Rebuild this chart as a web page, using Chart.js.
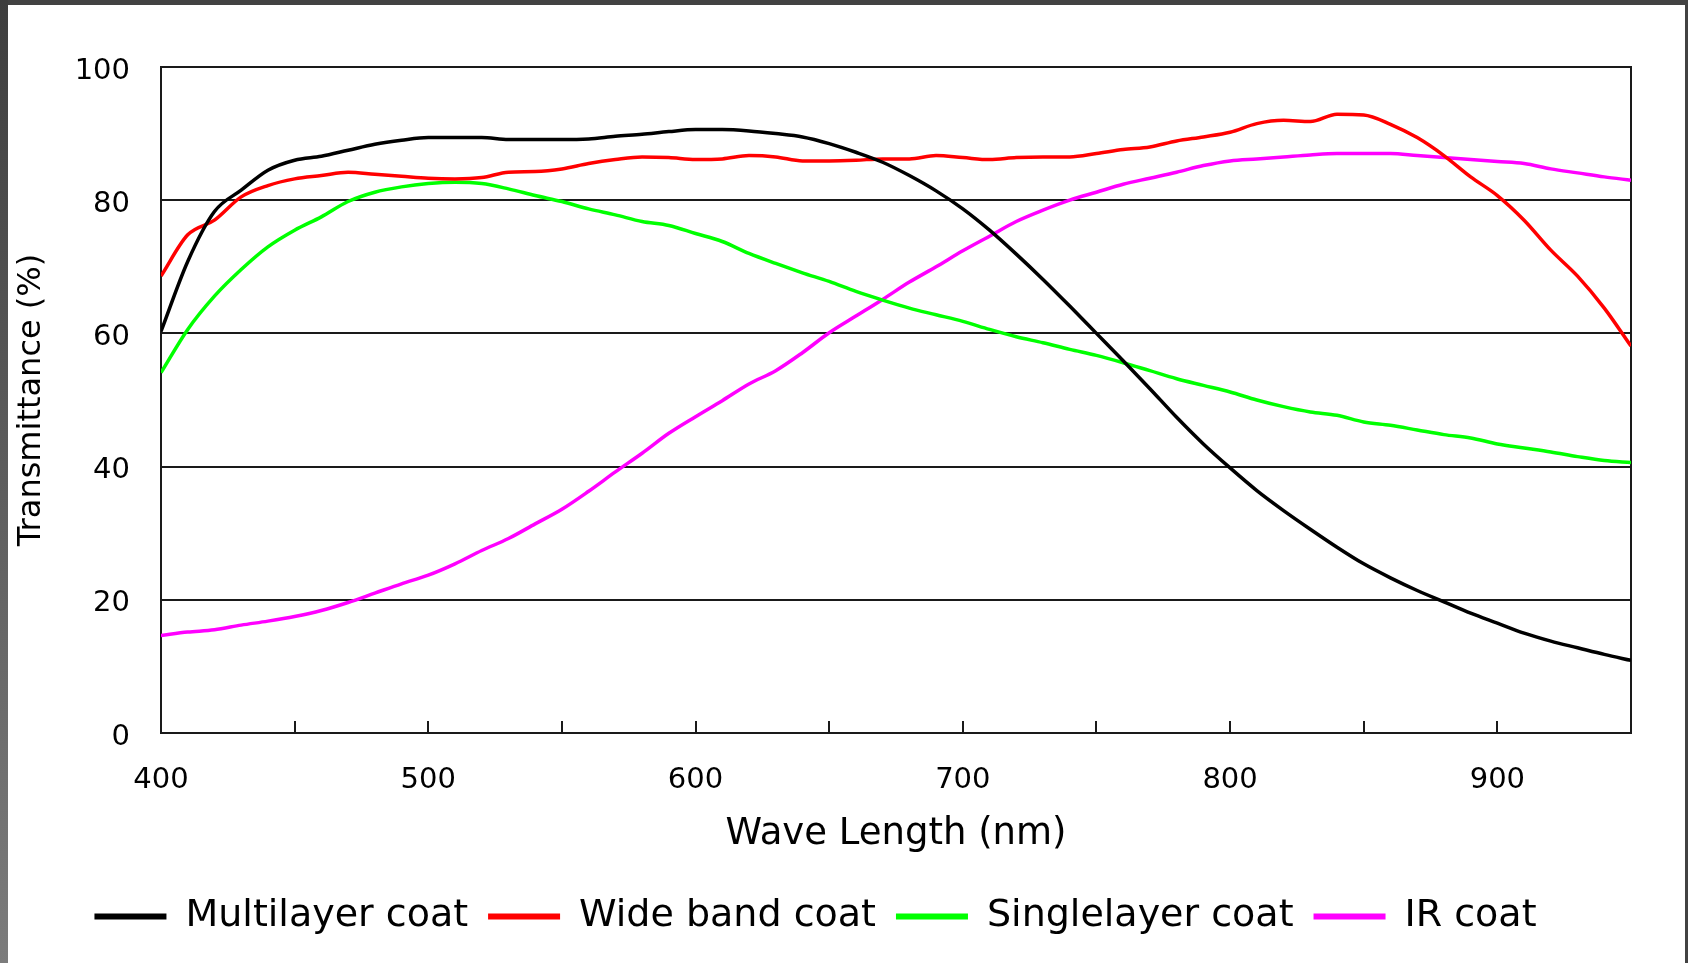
<!DOCTYPE html>
<html>
<head>
<meta charset="utf-8">
<script src="https://cdn.jsdelivr.net/npm/chart.js@4"></script>
<style>
	html, body { margin: 0; padding: 0; overflow: hidden; background: #fff; }
	canvas { display: block; }
</style>
</head>
<body>
<canvas id="myChart" width="1688" height="963"></canvas>
<script>
const wavelengths = [400, 410, 420, 430, 440, 450, 460, 470, 480, 490, 500, 510, 520, 530, 540, 550, 560, 570, 580, 590, 600, 610, 620, 630, 640, 650, 660, 670, 680, 690, 700, 710, 720, 730, 740, 750, 760, 770, 780, 790, 800, 810, 820, 830, 840, 850, 860, 870, 880, 890, 900, 910, 920, 930, 940, 950];

const multilayer = [60.3, 70.8, 78.3, 81.5, 84.5, 86.0, 86.6, 87.5, 88.4, 89.0, 89.4, 89.4, 89.4, 89.1, 89.1, 89.1, 89.2, 89.6, 89.9, 90.3, 90.6, 90.6, 90.4, 90.0, 89.5, 88.5, 87.2, 85.7, 83.7, 81.4, 78.7, 75.5, 71.9, 68.1, 64.1, 60.0, 55.9, 51.7, 47.4, 43.4, 39.8, 36.4, 33.4, 30.6, 27.9, 25.4, 23.3, 21.4, 19.7, 18.0, 16.5, 15.0, 13.8, 12.8, 11.8, 10.9];

const wideBand = [68.6, 74.8, 77.0, 80.5, 82.2, 83.2, 83.7, 84.2, 83.9, 83.6, 83.3, 83.2, 83.4, 84.2, 84.3, 84.7, 85.5, 86.1, 86.5, 86.4, 86.1, 86.2, 86.7, 86.5, 85.9, 85.9, 86.0, 86.2, 86.2, 86.7, 86.4, 86.1, 86.4, 86.5, 86.5, 87.0, 87.6, 88.0, 88.9, 89.5, 90.2, 91.5, 92.0, 91.8, 92.9, 92.8, 91.4, 89.4, 86.7, 83.5, 80.7, 77.0, 72.5, 68.6, 63.8, 58.1];

const singlelayer = [54.1, 60.6, 65.6, 69.6, 73.0, 75.5, 77.5, 79.8, 81.2, 82.0, 82.5, 82.7, 82.5, 81.7, 80.7, 79.8, 78.7, 77.8, 76.8, 76.2, 75.0, 73.8, 72.0, 70.5, 69.1, 67.8, 66.3, 65.0, 63.8, 62.8, 61.8, 60.6, 59.5, 58.6, 57.6, 56.7, 55.6, 54.4, 53.2, 52.2, 51.2, 50.0, 49.0, 48.2, 47.7, 46.7, 46.2, 45.5, 44.8, 44.3, 43.4, 42.8, 42.2, 41.5, 40.9, 40.6];

const irCoat = [14.65, 15.15, 15.5, 16.2, 16.8, 17.5, 18.4, 19.6, 21.0, 22.4, 23.7, 25.4, 27.4, 29.2, 31.4, 33.6, 36.3, 39.2, 42.0, 45.0, 47.5, 49.9, 52.4, 54.4, 57.1, 60.1, 62.6, 65.1, 67.7, 70.0, 72.4, 74.6, 76.8, 78.5, 80.0, 81.2, 82.4, 83.3, 84.2, 85.2, 85.9, 86.2, 86.5, 86.8, 87.0, 87.0, 87.0, 86.7, 86.4, 86.1, 85.8, 85.5, 84.7, 84.1, 83.5, 83.0];

const seriesNames = ["Multilayer coat", "Wide band coat", "Singlelayer coat", "IR coat"];
const seriesColors = ["#000000", "#ff0000", "#00ff00", "#ff00ff"];
const yTicks = [0, 20, 40, 60, 80, 100];
const xLabelTicks = [400, 500, 600, 700, 800, 900];
const xMinorTicks = [450, 500, 550, 600, 650, 700, 750, 800, 850, 900];

const toPoints = (vals) => wavelengths.map((w, i) => ({ x: w, y: vals[i] }));

// page frame + plot box + inward tick marks
const framePlugin = {
	id: "frame",
	beforeDraw(chart) {
		const ctx = chart.ctx;
		const w = chart.width, h = chart.height;
		ctx.save();
		ctx.fillStyle = "#ffffff";
		ctx.fillRect(0, 0, w, h);
		ctx.fillStyle = "#424242";
		ctx.fillRect(0, 0, w, 5);
		ctx.fillRect(w - 3, 0, 3, h);
		const g = ctx.createLinearGradient(0, 0, 0, h);
		g.addColorStop(0, "#3e3e3e");
		g.addColorStop(0.45, "#5a5a5a");
		g.addColorStop(1, "#7c7c7c");
		ctx.fillStyle = g;
		ctx.fillRect(0, 0, 8, h);
		ctx.restore();
	},
	beforeDatasetsDraw(chart) {
		const ctx = chart.ctx;
		const a = chart.chartArea;
		const xs = chart.scales.x;
		ctx.save();
		ctx.strokeStyle = "#1a1a1a";
		ctx.lineWidth = 2;
		ctx.strokeRect(a.left, a.top, a.right - a.left, a.bottom - a.top);
		ctx.beginPath();
		xMinorTicks.forEach((v) => {
			const px = Math.round(xs.getPixelForValue(v));
			ctx.moveTo(px, a.bottom);
			ctx.lineTo(px, a.bottom - 12);
		});
		ctx.stroke();
		ctx.restore();
	},
};

Chart.defaults.font.family = "'DejaVu Sans', sans-serif";
Chart.defaults.color = "#000000";

const transactionChart = document.getElementById("myChart");
const myChart = new Chart(transactionChart, {
	type: "line",
	data: {
		datasets: [multilayer, wideBand, singlelayer, irCoat].map((vals, i) => ({
			label: seriesNames[i],
			data: toPoints(vals),
			borderColor: seriesColors[i],
			backgroundColor: seriesColors[i],
			borderWidth: 3.5,
			pointRadius: 0,
			cubicInterpolationMode: "monotone",
			fill: false,
		})),
	},
	options: {
		responsive: false,
		animation: false,
		devicePixelRatio: 1,
		layout: { padding: { left: 0, right: 57, top: 67, bottom: 17.5 } },
		plugins: {
			tooltip: { enabled: false },
			legend: {
				position: "bottom",
				labels: {
					boxWidth: 72,
					boxHeight: 6,
					padding: 20,
					useBorderRadius: true,
					borderRadius: 3,
					font: { size: 38 },
					color: "#000000",
					generateLabels(chart) {
						return chart.data.datasets.map((ds, i) => ({
							text: ds.label,
							fillStyle: ds.borderColor,
							strokeStyle: ds.borderColor,
							lineWidth: 0,
							fontColor: "#000000",
							hidden: false,
							datasetIndex: i,
						}));
					},
				},
			},
		},
		scales: {
			x: {
				type: "linear",
				min: 400,
				max: 950,
				afterBuildTicks(scale) {
					scale.ticks = xLabelTicks.map((v) => ({ value: v }));
				},
				afterFit(scale) {
					scale.height = 144.5;
				},
				grid: { display: false, drawTicks: false },
				border: { display: false },
				ticks: {
					padding: 30,
					maxRotation: 0,
					autoSkip: false,
					font: { size: 29 },
					color: "#000000",
				},
				title: {
					display: true,
					text: "Wave Length (nm)",
					font: { size: 37 },
					color: "#000000",
					padding: { top: 0, bottom: 21 },
				},
			},
			y: {
				min: 0,
				max: 100,
				afterBuildTicks(scale) {
					scale.ticks = yTicks.map((v) => ({ value: v }));
				},
				afterFit(scale) {
					scale.width = 161;
				},
				grid: {
					color: "#1a1a1a",
					lineWidth: 2,
					drawTicks: false,
				},
				border: { display: false },
				ticks: {
					padding: 31,
					font: { size: 29, lineHeight: "8px" },
					color: "#000000",
					// empty first line nudges the label a few px below its gridline
					callback: (v) => ["", String(v)],
				},
				title: {
					display: true,
					text: "Transmittance (%)",
					font: { size: 32 },
					color: "#000000",
					padding: { top: 12, bottom: 0 },
				},
			},
		},
	},
	plugins: [framePlugin],
});
</script>
</body>
</html>
